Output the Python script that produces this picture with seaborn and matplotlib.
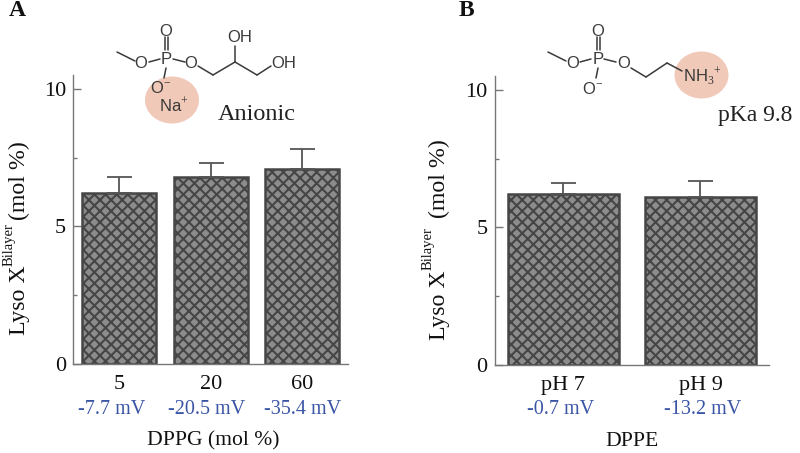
import matplotlib
matplotlib.use("Agg")
import matplotlib.pyplot as plt
from matplotlib.patches import Ellipse
import pandas as pd
import seaborn as sns

sns.set_theme(style="white")
plt.rcParams.update({
    "font.family": ["Liberation Serif", "DejaVu Serif"],
    "mathtext.fontset": "custom",
    "mathtext.rm": "Liberation Serif",
    "hatch.linewidth": 1.5,
    "hatch.color": "#404040",
})

cats_a = ["5", "20", "60"]
vals_a = [6.2, 6.8, 7.1]
errs_a = [0.6, 0.5, 0.7]
zeta_a = ["-7.7 mV", "-20.5 mV", "-35.4 mV"]
cats_b = ["pH 7", "pH 9"]
vals_b = [6.2, 6.1]
errs_b = [0.4, 0.6]
zeta_b = ["-0.7 mV", "-13.2 mV"]

W, H = 800, 453
fig = plt.figure(figsize=(W / 100, H / 100), dpi=100, facecolor="white")


def make_axes(x0, x1, y0, ytop):
    return fig.add_axes([x0 / W, 1 - y0 / H, (x1 - x0) / W, (y0 - ytop) / H])


def ylabel_parts(base_x, sup_x, y_lyso, y_sup, y_mol):
    kw = dict(rotation=90, rotation_mode="anchor", ha="left", va="baseline", color="#111111")
    over.text(base_x, y_lyso, "Lyso X", fontsize=17.2, **kw)
    over.text(sup_x, y_sup, "Bilayer", fontsize=10.5, **kw)
    over.text(base_x, y_mol, "(mol %)", fontsize=17.2, **kw)


def panel(ax, cats, vals, errs, zetas, zeta_x, xlabel, xlabel_x):
    df = pd.DataFrame({"cat": cats, "val": vals})
    sns.barplot(data=df, x="cat", y="val", ax=ax, color="#8c8c8c", saturation=1,
                width=0.81, edgecolor="#454545", linewidth=1.8, hatch="xxx",
                errorbar=None)
    ax.errorbar(range(len(cats)), vals, yerr=[[0] * len(errs), errs], fmt="none",
                ecolor="#555555", elinewidth=1.3, capsize=9, capthick=1.3)
    ax.set_xlim(-0.503, len(cats) - 0.5)
    ax.set_ylim(0, 10.5)
    ax.set_yticks([0, 5, 10])
    ax.set_yticks([2.5, 7.5], minor=True)
    ax.tick_params(axis="y", which="major", direction="in", length=6, width=1,
                   color="#777777", labelsize=16, pad=5, left=True, labelcolor="#111111")
    ax.tick_params(axis="y", which="minor", direction="in", length=3, width=1,
                   color="#777777", left=True)
    ax.tick_params(axis="x", length=0, labelsize=16, pad=8, labelcolor="#111111")
    for s in ("top", "right"):
        ax.spines[s].set_visible(False)
    for s in ("left", "bottom"):
        ax.spines[s].set_color("#777777")
        ax.spines[s].set_linewidth(1)
    ax.set_xlabel("")
    ax.set_ylabel("")
    for x, z in zip(zeta_x, zetas):
        over.text(x, 410, z, ha="center", va="center", fontsize=14.5, color="#3b55a5")
    over.text(xlabel_x, 441, xlabel, ha="center", va="center", fontsize=15.6, color="#111111")


over = fig.add_axes([0, 0, 1, 1], zorder=5)
over.set_xlim(0, W)
over.set_ylim(H, 0)
over.axis("off")
over.patch.set_alpha(0)

ax_a = make_axes(73, 348, 364, 75)
ax_b = make_axes(494.5, 769, 365, 76)
panel(ax_a, cats_a, vals_a, errs_a, zeta_a, [112, 207, 303], "DPPG (mol %)", 213)
panel(ax_b, cats_b, vals_b, errs_b, zeta_b, [561, 703], "DPPE", 632)
ylabel_parts(25, 12.5, 335, 266, 220)
ylabel_parts(445, 432, 340, 270, 218)

over.text(17, 11, "A", fontsize=17, fontweight="bold", ha="center", va="center", color="#111111")
over.text(466, 11, "B", fontsize=17, fontweight="bold", ha="center", va="center", color="#111111")
over.text(257, 115, "Anionic", fontsize=17.5, ha="center", va="center", color="#222222")
over.text(755, 116, "pKa 9.8", fontsize=17, ha="center", va="center", color="#222222")

# Chemical structures (decoration)
over.add_patch(Ellipse((172, 100), 54, 47, color="#f0c9b8", lw=0))
over.add_patch(Ellipse((701.5, 75), 54, 47, color="#f0c9b8", lw=0))
sc = "#3a3a3a"


def bonds(segs):
    for (xa, ya, xb, yb) in segs:
        over.plot([xa, xb], [ya, yb], color=sc, lw=1.1, solid_capstyle="round")


def atoms(items, size=12):
    for (x, y, s) in items:
        over.text(x, y, s, fontsize=size, family=["Liberation Sans"], ha="center",
                  va="center", color=sc)


bonds([(117, 52, 135, 61), (149, 62, 160, 59), (173, 59, 185, 62),
       (165, 37, 165, 50), (168, 37, 168, 50), (166, 68, 164, 78),
       (198, 66, 213, 75), (213, 75, 235, 62), (235, 62, 235, 46),
       (235, 62, 257, 75), (257, 75, 271, 66)])
atoms([(141, 64, "O"), (166, 32, "O"), (166, 59, "P"), (191, 64, "O"),
       (240, 38, "OH"), (284, 64, "OH"), (161, 88, "O$^{-}$"), (174, 106, "Na$^{+}$")])
bonds([(548, 52, 566, 61), (580, 62, 591, 59), (604, 59, 616, 62),
       (597, 37, 597, 50), (600, 37, 600, 50), (598, 68, 596, 78),
       (631, 68, 646, 77), (646, 77, 667, 63), (667, 63, 682, 71)])
atoms([(573, 64, "O"), (598, 32, "O"), (598, 59, "P"), (624, 64, "O"),
       (593, 89, "O$^{-}$"), (702, 77, "NH$_3$$^{+}$")])

fig.savefig("out.png", dpi=100, facecolor="white")
